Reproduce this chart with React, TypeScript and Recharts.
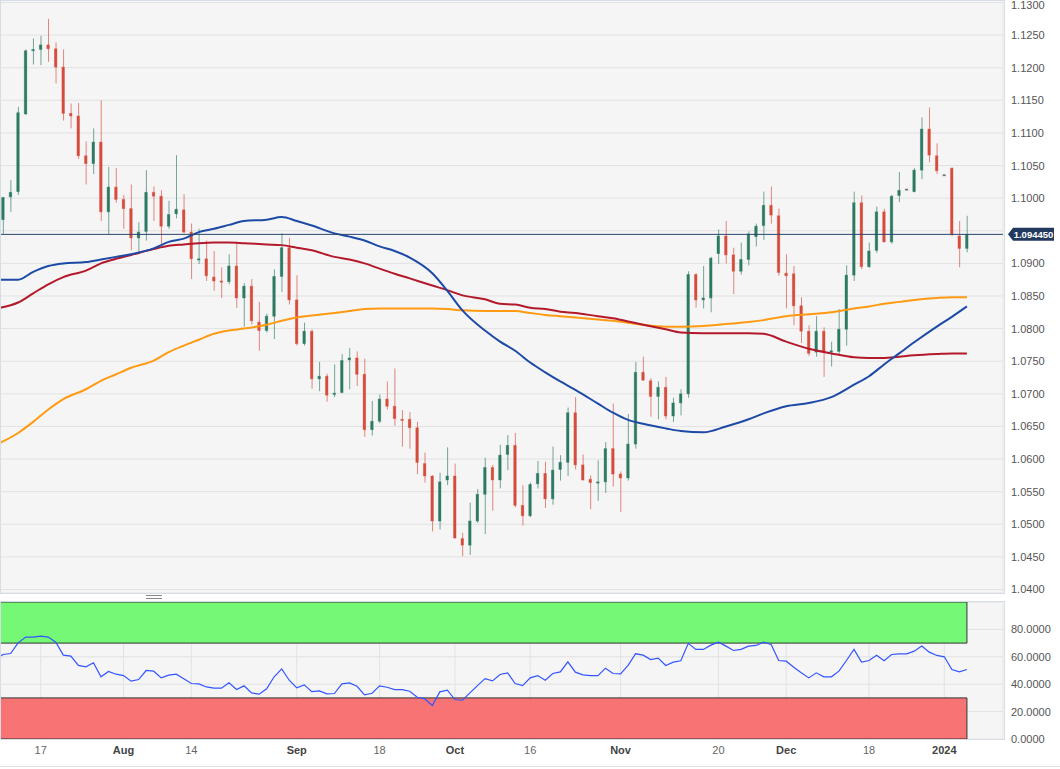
import React from "react";
import {
  ComposedChart,
  Bar,
  Line,
  XAxis,
  YAxis,
  CartesianGrid,
  ReferenceLine,
  ReferenceArea,
} from "recharts";

// daily EUR/USD candles, index 0 = 10 Jul 2023
const opens = [
  1.0967, 1.1002, 1.101, 1.1129, 1.1226, 1.1228, 1.1235, 1.1229, 1.1201, 1.113,
  1.1126, 1.1065, 1.1053, 1.1086, 1.0979, 1.1017, 1.0998, 1.0984, 1.0939, 1.0949,
  1.1009, 1.1003, 1.0957, 1.0976, 1.0982, 1.0948, 1.0906, 1.0907, 1.0879, 1.0873,
  1.0872, 1.0896, 1.0847, 1.0865, 1.081, 1.0797, 1.0819, 1.088, 1.0924, 1.0844,
  1.0777, 1.0796, 1.0723, 1.0727, 1.0699, 1.0702, 1.0752, 1.0755, 1.073, 1.0645,
  1.0658, 1.0692, 1.0681, 1.0661, 1.0661, 1.0648, 1.0593, 1.0574, 1.0505, 1.0568,
  1.0574, 1.0478, 1.0468, 1.0505, 1.0546, 1.0587, 1.0568, 1.0607, 1.0621, 1.0529,
  1.0513, 1.0562, 1.0578, 1.0539, 1.0584, 1.0595, 1.0671, 1.0591, 1.0569, 1.0564,
  1.0565, 1.0616, 1.0577, 1.0571, 1.0623, 1.0733, 1.072, 1.0696, 1.071, 1.0666,
  1.0686, 1.07, 1.0883, 1.0844, 1.0847, 1.0915, 1.0942, 1.0913, 1.0888, 1.0906,
  1.0941, 1.0958, 1.0989, 1.0973, 1.0885, 1.0884, 1.0835, 1.0796, 1.0764, 1.0796,
  1.0764, 1.0765, 1.0799, 1.0882, 1.0993, 1.0895, 1.092, 1.0979, 1.0933, 1.1004,
  1.1014, 1.101, 1.1043, 1.1106, 1.1065, 1.1036, 1.1046, 1.0942, 1.0923,
];
const highs = [
  1.1002, 1.1028, 1.114, 1.1228, 1.1245, 1.1249, 1.1275, 1.1239, 1.1228, 1.1145,
  1.1146, 1.1087, 1.1107, 1.115, 1.1048, 1.1046, 1.1005, 1.1021, 1.0963, 1.1043,
  1.1018, 1.1012, 1.0996, 1.1066, 1.1006, 1.0961, 1.0953, 1.0935, 1.0919, 1.0894,
  1.0914, 1.0932, 1.087, 1.0876, 1.0841, 1.0823, 1.0891, 1.0946, 1.0939, 1.0882,
  1.0809, 1.0799, 1.0749, 1.0731, 1.0745, 1.0761, 1.077, 1.0765, 1.0754, 1.0689,
  1.0699, 1.0719, 1.0739, 1.0675, 1.0672, 1.0657, 1.061, 1.0575, 1.0579, 1.0618,
  1.0593, 1.0487, 1.0533, 1.0554, 1.0602, 1.0591, 1.0622, 1.0637, 1.064, 1.056,
  1.0564, 1.0597, 1.0596, 1.0619, 1.0606, 1.0679, 1.0695, 1.0607, 1.0575, 1.0598,
  1.0626, 1.0685, 1.0581, 1.0669, 1.0749, 1.0757, 1.0724, 1.0719, 1.0726, 1.0694,
  1.0707, 1.0888, 1.0885, 1.0896, 1.091, 1.0952, 1.0965, 1.0924, 1.0932, 1.0949,
  1.0961, 1.101, 1.1018, 1.0984, 1.0914, 1.0896, 1.0848, 1.0805, 1.0819, 1.0802,
  1.078, 1.083, 1.0897, 1.101, 1.1004, 1.0932, 1.0987, 1.0984, 1.1005, 1.104,
  1.1014, 1.1046, 1.1124, 1.1139, 1.1084, 1.1036, 1.1047, 1.0965, 1.0973,
];
const lows = [
  1.0945, 1.0979, 1.1005, 1.1128, 1.1205, 1.1204, 1.1209, 1.1176, 1.1119, 1.1107,
  1.106, 1.1021, 1.1037, 1.0965, 1.0944, 1.0993, 1.0953, 1.092, 1.0914, 1.0935,
  1.0965, 1.093, 1.0953, 1.0969, 1.0946, 1.0876, 1.0899, 1.0873, 1.0858, 1.0847,
  1.0868, 1.0832, 1.0803, 1.0806, 1.0766, 1.0794, 1.0784, 1.0856, 1.0837, 1.0774,
  1.0774, 1.0708, 1.0704, 1.0688, 1.0695, 1.0701, 1.0707, 1.0712, 1.0634, 1.0636,
  1.0655, 1.0676, 1.0651, 1.0619, 1.0616, 1.0577, 1.0564, 1.0489, 1.0492, 1.056,
  1.0478, 1.0451, 1.0453, 1.0502, 1.0485, 1.0521, 1.0555, 1.0583, 1.0526, 1.0498,
  1.0511, 1.0555, 1.0525, 1.053, 1.0567, 1.0574, 1.0584, 1.0567, 1.0523, 1.0536,
  1.0548, 1.0558, 1.0519, 1.0567, 1.0616, 1.072, 1.0665, 1.0661, 1.0661, 1.0657,
  1.0667, 1.0694, 1.0832, 1.0831, 1.0825, 1.0899, 1.09, 1.0853, 1.0883, 1.0897,
  1.0926, 1.0936, 1.0961, 1.0881, 1.0831, 1.0805, 1.0778, 1.0758, 1.0757, 1.0726,
  1.0742, 1.0761, 1.0774, 1.0873, 1.0891, 1.0893, 1.0916, 1.0932, 1.093, 1.0994,
  1.1014, 1.1009, 1.1029, 1.1055, 1.1037, 1.1036, 1.0942, 1.0894, 1.0917,
];
const closes = [
  1.1001, 1.1009, 1.1131, 1.1226, 1.1228, 1.1235, 1.1229, 1.1201, 1.113, 1.1126,
  1.1065, 1.1053, 1.1086, 1.0979, 1.1017, 1.0998, 1.0984, 1.0939, 1.0948, 1.1009,
  1.1003, 1.0957, 1.0975, 1.0983, 1.0948, 1.0907, 1.0907, 1.0881, 1.0873, 1.0872,
  1.0896, 1.0847, 1.0865, 1.0812, 1.0797, 1.0819, 1.088, 1.0924, 1.0844, 1.0777,
  1.0796, 1.0723, 1.0727, 1.0698, 1.0701, 1.0751, 1.0755, 1.073, 1.0645, 1.0658,
  1.0692, 1.0681, 1.0662, 1.066, 1.0648, 1.0595, 1.0574, 1.0505, 1.0565, 1.0574,
  1.0479, 1.0468, 1.0505, 1.0546, 1.0587, 1.0568, 1.0606, 1.0621, 1.0529, 1.0513,
  1.0561, 1.0578, 1.0539, 1.0583, 1.0595, 1.0671, 1.0591, 1.0568, 1.0564, 1.0565,
  1.0616, 1.0577, 1.0571, 1.0623, 1.0733, 1.0721, 1.0696, 1.071, 1.0666, 1.0686,
  1.07, 1.0883, 1.0844, 1.0847, 1.0908, 1.0942, 1.0913, 1.0888, 1.0906, 1.0945,
  1.0957, 1.0989, 1.0974, 1.0886, 1.0881, 1.0835, 1.0796, 1.0762, 1.0796, 1.0764,
  1.0766, 1.0799, 1.0882, 1.0993, 1.0895, 1.0919, 1.0979, 1.0933, 1.1003, 1.1012,
  1.1014, 1.1043, 1.1106, 1.1066, 1.1042, 1.1036, 1.0945, 1.0923, 1.09445,
];

// moving averages, read at these candle indexes (first one is the left edge)
const maIdx = [
  -0.38, 2, 4, 6, 8, 11, 13, 15, 17, 20, 22, 24, 26, 28, 30, 32, 35, 37, 39, 41,
  44, 46, 48, 50, 52, 54, 57, 59, 61, 64, 66, 68, 70, 72, 74, 76, 79, 81, 83, 85,
  88, 90, 93, 96, 99, 101, 104, 107, 110, 113, 115, 117, 119, 121, 124, 126, 128,
];
const ma50 = [
  1.0875, 1.0875, 1.0887, 1.0896, 1.09, 1.0902, 1.0906, 1.091, 1.0914, 1.0923,
  1.0933, 1.0938, 1.0948, 1.0953, 1.0959, 1.0965, 1.0967, 1.0971, 1.0965, 1.0958,
  1.0946, 1.0941, 1.0935, 1.0926, 1.0919, 1.0909, 1.0885, 1.0858, 1.0828, 1.0797,
  1.078, 1.0766, 1.0748, 1.0733, 1.0719, 1.0706, 1.0685, 1.0671, 1.066, 1.0654,
  1.0647, 1.0643, 1.0641, 1.065, 1.0661, 1.067, 1.0681, 1.0686, 1.0695, 1.0714,
  1.0727, 1.0745, 1.0762, 1.0779, 1.0803, 1.0818, 1.0834,
];
const ma100 = [
  1.0832, 1.084, 1.0854, 1.0868, 1.0879, 1.0889, 1.09, 1.0907, 1.0913, 1.0922,
  1.0927, 1.0929, 1.0931, 1.0932, 1.0932, 1.0931, 1.0929, 1.0928, 1.0924, 1.092,
  1.091, 1.0906, 1.09, 1.0892, 1.0884, 1.0877, 1.0866, 1.0859, 1.0851, 1.0845,
  1.0838, 1.0837, 1.0832, 1.083, 1.0826, 1.0824, 1.0819, 1.0816, 1.0811, 1.0806,
  1.0799, 1.0794, 1.0793, 1.0793, 1.0793, 1.0792, 1.078, 1.0769, 1.0762, 1.0756,
  1.0755, 1.0755, 1.0757, 1.0759, 1.0761, 1.0762, 1.0762,
];
const ma200 = [
  1.0625, 1.064, 1.0657, 1.0676, 1.0692, 1.0707, 1.072, 1.073, 1.074, 1.0751,
  1.0764, 1.0774, 1.0783, 1.0792, 1.0797, 1.08, 1.0806, 1.0812, 1.0817, 1.082,
  1.0824, 1.0827, 1.083, 1.0831, 1.0831, 1.0831, 1.0831, 1.083, 1.0828, 1.0827,
  1.0827, 1.0827, 1.0824, 1.0821, 1.0819, 1.0817, 1.0814, 1.0812, 1.0809, 1.0806,
  1.0803, 1.0803, 1.0804, 1.0807, 1.081, 1.0813, 1.0819, 1.0822, 1.0825, 1.0831,
  1.0834, 1.0838, 1.0841, 1.0844, 1.0847, 1.0848, 1.0848,
];

// RSI(14), one per candle, plus the value at the left edge
const rsiEdge = 60.5;
const rsi = [
  61.7, 62.4, 70.2, 74.4, 74.4, 75.1, 74.4, 70.7, 61.2, 60.5,
  53.7, 52.7, 55.6, 45.4, 49.3, 47.3, 46.3, 42.2, 43.4, 50.0,
  49.5, 44.6, 46.6, 47.3, 43.9, 40.5, 40.2, 38.0, 37.1, 37.1,
  41.0, 36.1, 38.8, 33.7, 32.7, 36.6, 45.4, 51.2, 42.9, 37.3,
  39.5, 34.6, 35.1, 32.9, 33.2, 40.2, 41.0, 38.5, 32.2, 33.4,
  38.8, 37.8, 36.1, 36.1, 34.9, 30.5, 29.3, 24.4, 34.4, 35.6,
  28.8, 28.3, 33.7, 39.0, 44.1, 42.4, 47.1, 48.3, 40.5, 39.0,
  44.6, 46.3, 42.9, 47.8, 49.0, 56.3, 48.8, 46.8, 46.3, 46.3,
  51.7, 47.8, 47.6, 53.7, 62.2, 61.2, 58.0, 59.0, 53.7, 56.1,
  57.1, 69.8, 65.4, 65.4, 68.5, 70.7, 67.8, 64.6, 65.4, 67.8,
  68.3, 70.7, 69.0, 57.3, 56.8, 52.4, 48.3, 44.6, 48.3, 45.4,
  45.4, 49.5, 57.3, 65.4, 56.1, 57.3, 61.2, 57.1, 61.7, 62.2,
  62.2, 64.1, 67.8, 63.4, 61.0, 60.0, 50.7, 49.0, 50.7,
];

const dateTicks = [5, 16, 25, 39, 50, 60, 70, 82, 95, 104, 115, 125];
const dateLabels = ["17", "Aug", "14", "Sep", "18", "Oct", "16", "Nov", "20", "Dec", "18", "2024"];
const boldLabels = ["Aug", "Sep", "Oct", "Nov", "Dec", "2024"];
const priceTicks = [
  1.04, 1.045, 1.05, 1.055, 1.06, 1.065, 1.07, 1.075, 1.08, 1.085, 1.09, 1.095,
  1.1, 1.105, 1.11, 1.115, 1.12, 1.125, 1.13,
];
const rsiTicks = [0, 20, 40, 60, 80];
const lastPrice = 1.09445;
const lastCandle = 128;

const X_DOMAIN: [number, number] = [-0.41, 132.79];
const FONT = '"Liberation Sans", Arial, sans-serif';
const UP = "#2c7a63";
const DOWN = "#d64c3c";
const FLAT = "#666";

const candles = opens.map((o, i) => ({
  i,
  wick: [lows[i], highs[i]],
  body: [Math.min(o, closes[i]), Math.max(o, closes[i])],
  dir: closes[i] > o ? 1 : closes[i] < o ? -1 : 0,
}));
const toSeries = (vals: number[]) => vals.map((v, k) => ({ i: maIdx[k], v }));
const ma50Data = toSeries(ma50);
const ma100Data = toSeries(ma100);
const ma200Data = toSeries(ma200);
const rsiData = [{ i: maIdx[0], v: rsiEdge }, ...rsi.map((v, i) => ({ i, v }))];

const colorOf = (dir: number) => (dir > 0 ? UP : dir < 0 ? DOWN : FLAT);

function WickShape(props: any) {
  const { x, y, width, height, payload } = props;
  if (x == null || y == null || !height) return <g />;
  const top = height < 0 ? y + height : y;
  return (
    <rect
      x={x + width / 2 - 0.5}
      y={top}
      width={1}
      height={Math.abs(height)}
      fill={colorOf(payload.dir)}
      fillOpacity={0.65}
    />
  );
}

function BodyShape(props: any) {
  const { x, y, width, height, payload } = props;
  if (x == null || y == null) return <g />;
  const h = height || 0;
  const top = h < 0 ? y + h : y;
  const c = colorOf(payload.dir);
  return (
    <rect
      x={x}
      y={top}
      width={width}
      height={Math.max(Math.abs(h), 1.2)}
      fill={c}
      stroke={c}
      strokeOpacity={0.45}
      strokeWidth={0.8}
    />
  );
}

function PriceTick(props: any) {
  const { x, y, payload } = props;
  if (Math.abs(payload.value - lastPrice) < 0.0012) return <g />;
  return (
    <text x={x} y={Math.max(y, 4.5)} dy={4} textAnchor="start" fill="#555" fontSize={11} fontFamily={FONT}>
      {payload.value.toFixed(4)}
    </text>
  );
}

function RsiTick(props: any) {
  const { x, y, payload } = props;
  return (
    <text x={x} y={y} dy={4} textAnchor="start" fill="#555" fontSize={11} fontFamily={FONT}>
      {payload.value.toFixed(4)}
    </text>
  );
}

function DateTick(props: any) {
  const { x, y, payload } = props;
  const label = dateLabels[dateTicks.indexOf(payload.value)] ?? "";
  const bold = boldLabels.includes(label);
  return (
    <text
      x={x}
      y={y}
      dy={7}
      textAnchor="middle"
      fill={bold ? "#444" : "#666"}
      fontSize={11}
      fontWeight={bold ? "bold" : "normal"}
      fontFamily={FONT}
    >
      {label}
    </text>
  );
}

function PriceTag(props: any) {
  const vb = props.viewBox;
  if (!vb) return <g />;
  const x0 = vb.x + vb.width + 5;
  const y0 = vb.y;
  const d = `M${x0},${y0} L${x0 + 5},${y0 - 6.5} L${x0 + 46},${y0 - 6.5} L${x0 + 46},${y0 + 6.5} L${x0 + 5},${y0 + 6.5} Z`;
  return (
    <g>
      <path d={d} fill="#223a5e" />
      <text
        x={x0 + 25.5}
        y={y0}
        dy={3.5}
        textAnchor="middle"
        fill="#fff"
        fontSize={9.5}
        fontWeight="bold"
        fontFamily={FONT}
      >
        {lastPrice.toFixed(6)}
      </text>
    </g>
  );
}

export default function App() {
  return (
    <div style={{ position: "absolute", left: 0, top: 0, width: 1060, height: 769, background: "#fff", fontFamily: FONT }}>
      <div style={{ position: "absolute", left: 0, top: 0 }}>
        <ComposedChart width={1060} height={600} data={candles} margin={{ top: 0, right: 0, bottom: 7, left: 0 }}>
          <CartesianGrid xAxisId="b" yAxisId="p" fill="#f5f5f5" stroke="#e2e2e2" />
          <XAxis xAxisId="w" type="number" dataKey="i" domain={X_DOMAIN} allowDataOverflow hide />
          <XAxis
            xAxisId="b"
            type="number"
            dataKey="i"
            domain={X_DOMAIN}
            allowDataOverflow
            ticks={dateTicks}
            interval={0}
            tick={false}
            axisLine={false}
            tickLine={false}
            height={0}
          />
          <YAxis
            yAxisId="p"
            orientation="right"
            width={57}
            domain={[1.039463, 1.130383]}
            allowDataOverflow
            ticks={priceTicks}
            interval={0}
            tick={<PriceTick />}
            axisLine={false}
            tickLine={false}
          />
          <Bar xAxisId="w" yAxisId="p" dataKey="wick" barSize={6} shape={<WickShape />} isAnimationActive={false} />
          <Bar xAxisId="b" yAxisId="p" dataKey="body" barSize={6} shape={<BodyShape />} isAnimationActive={false} />
          <Line xAxisId="b" yAxisId="p" data={ma200Data} dataKey="v" type="monotone" stroke="#ff9a12" strokeWidth={2} dot={false} activeDot={false} isAnimationActive={false} />
          <Line xAxisId="b" yAxisId="p" data={ma100Data} dataKey="v" type="monotone" stroke="#b3192b" strokeWidth={2} dot={false} activeDot={false} isAnimationActive={false} />
          <Line xAxisId="b" yAxisId="p" data={ma50Data} dataKey="v" type="monotone" stroke="#1d4aa6" strokeWidth={2} dot={false} activeDot={false} isAnimationActive={false} />
          <ReferenceLine xAxisId="b" yAxisId="p" y={lastPrice} stroke="#28456d" strokeWidth={1} label={<PriceTag />} />
        </ComposedChart>
      </div>
      <div style={{ position: "absolute", left: 0, top: 0, width: 1003, height: 592, border: "1px solid #d6dde6", pointerEvents: "none" }} />
      <div style={{ position: "absolute", left: 146, top: 595, width: 16, height: 2, borderTop: "1px solid #888", borderBottom: "1px solid #888" }} />
      <div style={{ position: "absolute", left: 0, top: 601 }}>
        <ComposedChart width={1060} height={168} data={rsiData} margin={{ top: 1, right: 0, bottom: 0, left: 0 }}>
          <CartesianGrid fill="#f5f5f5" stroke="#e2e2e2" />
          <XAxis
            type="number"
            dataKey="i"
            domain={X_DOMAIN}
            allowDataOverflow
            ticks={dateTicks}
            interval={0}
            tick={<DateTick />}
            axisLine={false}
            tickLine={false}
            height={30}
          />
          <YAxis
            orientation="right"
            width={57}
            domain={[0, 100]}
            ticks={rsiTicks}
            interval={0}
            tick={<RsiTick />}
            axisLine={false}
            tickLine={false}
          />
          <ReferenceArea x1={X_DOMAIN[0]} x2={lastCandle} y1={70} y2={100} fill="#6ef86e" fillOpacity={0.95} stroke="#333" strokeWidth={1} />
          <ReferenceArea x1={X_DOMAIN[0]} x2={lastCandle} y1={0} y2={30} fill="#f86d6d" fillOpacity={0.95} stroke="#333" strokeWidth={1} />
          <Line dataKey="v" type="linear" stroke="#3355ff" strokeWidth={1.2} dot={false} activeDot={false} isAnimationActive={false} />
        </ComposedChart>
      </div>
      <div style={{ position: "absolute", left: 0, top: 601, width: 1003, height: 137, border: "1px solid #d6dde6", pointerEvents: "none" }} />
      <div style={{ position: "absolute", left: 0, top: 766, width: 1060, height: 1, background: "#e2e2e2" }} />
    </div>
  );
}
